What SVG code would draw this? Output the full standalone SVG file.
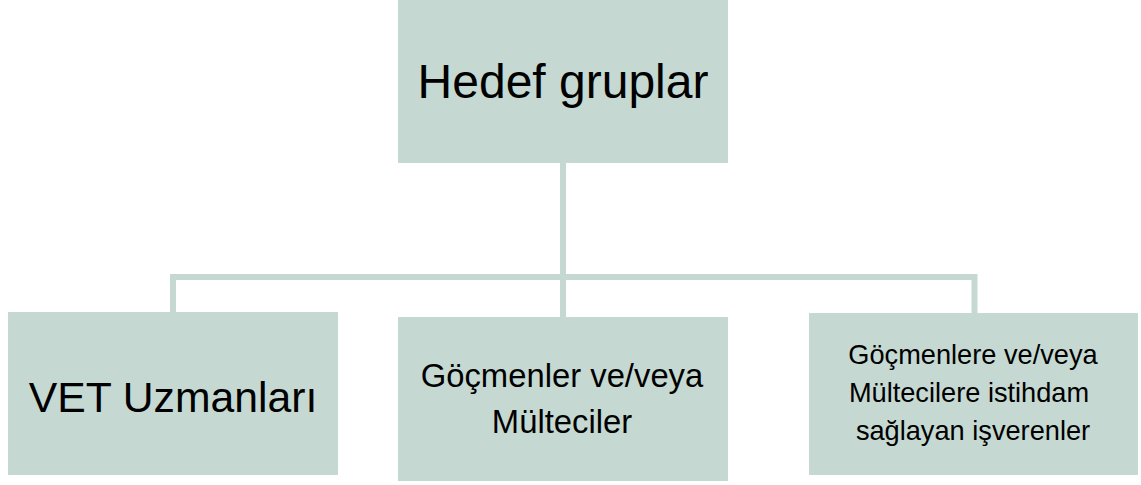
<svg xmlns="http://www.w3.org/2000/svg" width="1141" height="485" viewBox="0 0 1141 485">
<style>
.box{fill:#c5d9d2;}
.t{font-family:"Liberation Sans",Arial,sans-serif;fill:#000;text-anchor:middle;}
.conn{fill:none;stroke:#c5d9d2;stroke-width:6;}
</style>
<rect width="1141" height="485" fill="#ffffff"/>
<g id="connectors">
<line class="conn" x1="563" y1="163" x2="563" y2="317"/>
<polyline class="conn" points="173,313 173,277 974.5,277 974.5,313"/>
</g>
<g id="node-hedef">
<rect class="box" x="398" y="0" width="330" height="163"/>
<text class="t" x="563" y="98" font-size="48">Hedef gruplar</text>
</g>
<g id="node-vet">
<rect class="box" x="8" y="312" width="330" height="163"/>
<text class="t" x="173" y="412" font-size="42.7">VET Uzmanları</text>
</g>
<g id="node-gocmen">
<rect class="box" x="398" y="317" width="330" height="164"/>
<text class="t" font-size="32.8"><tspan x="562" y="387">Göçmenler ve/veya</tspan><tspan x="562" y="433">Mülteciler</tspan></text>
</g>
<g id="node-isveren">
<rect class="box" x="809" y="313" width="329" height="162"/>
<text class="t" font-size="27.2"><tspan x="973" y="364">Göçmenlere ve/veya</tspan><tspan x="969" y="402">Mültecilere istihdam</tspan><tspan x="973" y="440">sağlayan işverenler</tspan></text>
</g>
</svg>
